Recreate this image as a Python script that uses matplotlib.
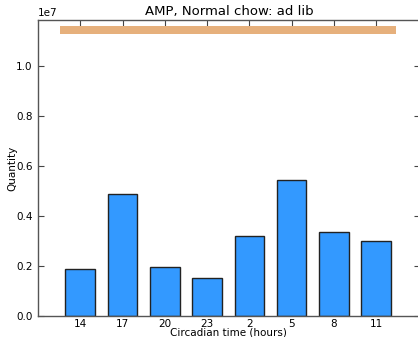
import matplotlib
matplotlib.use("Agg")
import matplotlib.pyplot as plt

# --- Data ---
hours = ["14", "17", "20", "23", "2", "5", "8", "11"]
quantity = [0.188e7, 0.487e7, 0.197e7, 0.151e7, 0.318e7, 0.545e7, 0.336e7, 0.301e7]

# feeding bar (ad lib: food available over the whole span)
feed_start = -0.47
feed_width = 7.95
feed_y = 1.127e7
feed_h = 0.033e7

# --- Plot ---
fig = plt.figure(figsize=(4.18, 3.37), dpi=100)
ax = fig.add_axes([0.0909, 0.0623, 0.913, 0.877])

pos = list(range(len(hours)))
ax.bar(pos, quantity, width=0.7, color="#3399ff", edgecolor="#222222", linewidth=1.0, zorder=2)
ax.broken_barh([(feed_start, feed_width)], (feed_y, feed_h), facecolors="#e6b07c", zorder=2)

ax.set_xlim(-1, 8.03)
ax.set_ylim(0, 1.182e7)
ax.set_xticks(pos)
ax.set_xticklabels(hours)
ax.set_yticks([0, 0.2e7, 0.4e7, 0.6e7, 0.8e7, 1.0e7])

ax.tick_params(direction="in", length=4, width=0.8, color="#444444",
               top=True, right=True, labelsize=7.5)
ax.tick_params(axis="x", pad=2)
ax.tick_params(axis="y", pad=4)
for s in ax.spines.values():
    s.set_color("#555555")
    s.set_linewidth(1.0)

ax.yaxis.get_offset_text().set_fontsize(7.5)
ax.set_title("AMP, Normal chow: ad lib", fontsize=9.5, pad=4)
ax.set_xlabel("Circadian time (hours)", fontsize=7.5, labelpad=-1)
ax.set_ylabel("Quantity", fontsize=7.5, labelpad=-1)

fig.savefig("out.png", dpi=100)
